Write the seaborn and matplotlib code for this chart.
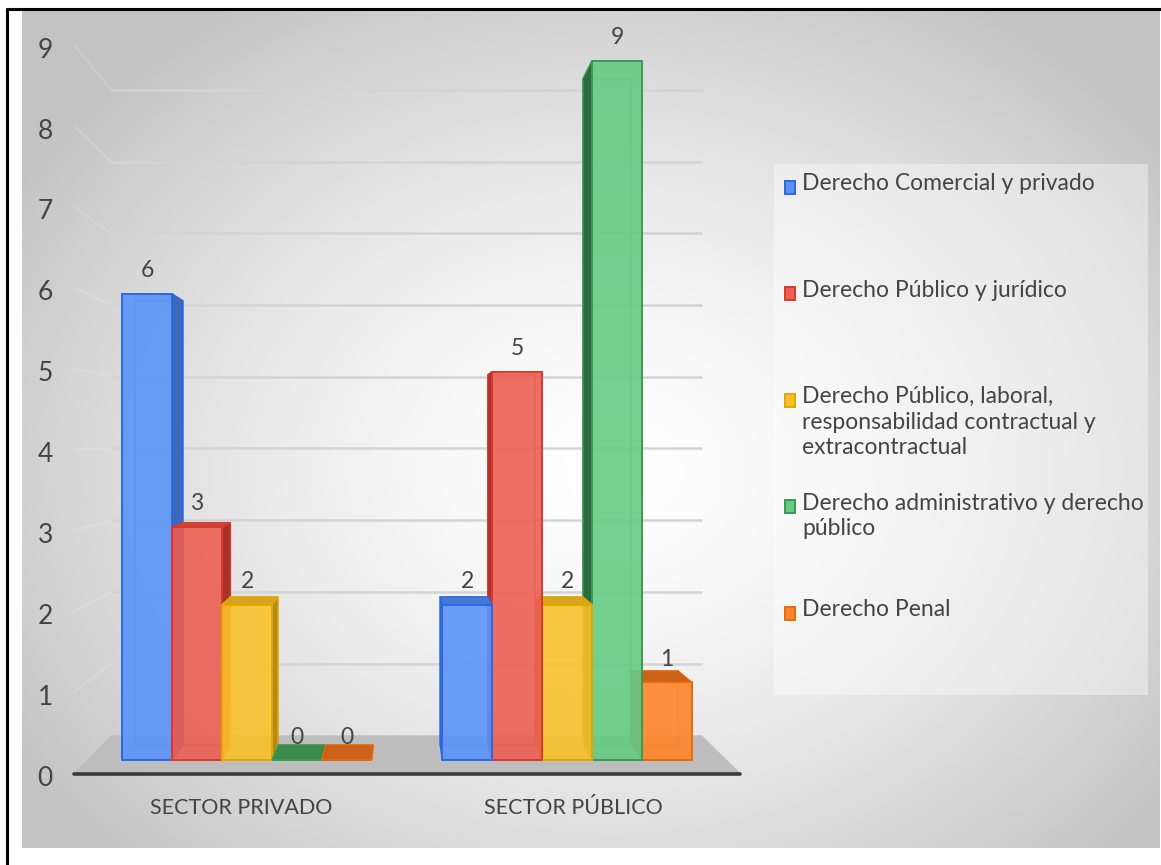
import numpy as np
import pandas as pd
import matplotlib
matplotlib.use("Agg")
import matplotlib.pyplot as plt
import seaborn as sns
from matplotlib.transforms import Affine2D, IdentityTransform, ScaledTranslation
from matplotlib.patches import Polygon, Rectangle
from matplotlib.lines import Line2D
from matplotlib.colors import to_rgba

# ---- data -------------------------------------------------------------
sectors = ["SECTOR PRIVADO", "SECTOR PÚBLICO"]
areas = [
    "Derecho Comercial y privado",
    "Derecho Público y jurídico",
    "Derecho Público, laboral,\nresponsabilidad contractual y\nextracontractual",
    "Derecho administrativo y derecho\npúblico",
    "Derecho Penal",
]
privado = [6, 3, 2, 0, 0]
publico = [2, 5, 2, 9, 1]
y_ticks = list(range(10))

# ---- colours ----------------------------------------------------------
front_colors = ["#5B94F6", "#EC5F53", "#F9C22C", "#66CB84", "#FF852A"]
edge_colors = ["#2A68E6", "#D8392C", "#E5A600", "#3A9A55", "#E8680A"]
side_colors = ["#3F68BC", "#A9332B", "#B38B1D", "#2E6A40", "#C2580F"]
top_colors = ["#4878D4", "#C9473B", "#D6A41F", "#3B8B4D", "#C9621B"]
text_color = "#444444"

sns.set_theme(style="white")
plt.rcParams["font.family"] = ["Lato", "DejaVu Sans"]

W, H = 1161, 865
fig = plt.figure(figsize=(W / 100, H / 100), dpi=100)
fig.patch.set_facecolor("white")

# ---- radial grey background --------------------------------------------
bx0, bx1, by0, by1 = 22, 1160, 11, 848
bg = fig.add_axes([bx0 / W, 1 - by1 / H, (bx1 - bx0) / W, (by1 - by0) / H], zorder=-10)
yy, xx = np.mgrid[by0:by1:420j, bx0:bx1:560j]
dist = np.hypot((xx - 610) / 700, (yy - 470) / 560)
shade = 1 - 0.235 * np.clip(dist, 0, 1) ** 1.5
bg.imshow(np.dstack([shade, shade, shade]), aspect="auto", interpolation="bilinear")
bg.axis("off")

# outer frame
fig.add_artist(Line2D([7 / W, 7 / W], [0, 1 - 9 / H], color="black", lw=2.2,
                      transform=fig.transFigure))
fig.add_artist(Line2D([7 / W, 1], [1 - 9 / H, 1 - 9 / H], color="black", lw=2.2,
                      transform=fig.transFigure))

# ---- main plot axes (front face plane of the columns) -------------------
px_unit = 77.7
y_lo, y_hi = -1.2, 9.7
top_px = 760 - y_hi * px_unit
bot_px = 760 - y_lo * px_unit
ax = fig.add_axes([87 / W, (H - bot_px) / H, 640 / W, (bot_px - top_px) / H])

df = pd.DataFrame({
    "sector": np.repeat(sectors, len(areas)),
    "area": areas * len(sectors),
    "count": privado + publico,
})
sns.barplot(data=df, x="sector", y="count", hue="area", order=sectors,
            hue_order=areas, palette=front_colors, saturation=1, width=0.78,
            errorbar=None, legend=False, ax=ax)
ax.set_xlim(-0.5, 1.5)
ax.set_ylim(y_lo, y_hi)
ax.axis("off")

# perspective: planes scaled about a vanishing point (display pixels)
VPX, VPY = 400, H - 440


def plane(s):
    return ax.transData + Affine2D().translate(-VPX, -VPY).scale(s).translate(VPX, VPY)


T_front = plane(1.041)
T_back = plane(0.953)
T_wall = plane(0.923)
ident = IdentityTransform()

# back wall gridlines and faint side-wall lines
for v in y_ticks[1:]:
    ax.plot([-0.5, 1.5], [v, v], transform=T_wall, color="#d4d4d4", lw=1.8,
            zorder=1, clip_on=False, solid_capstyle="butt")
    p1 = T_front.transform((-0.5, v))
    p2 = T_wall.transform((-0.5, v))
    ax.add_line(Line2D([p1[0], p2[0]], [p1[1], p2[1]], transform=ident,
                       color=(1, 1, 1, 0.16), lw=1.3, zorder=1, clip_on=False))

# floor
floor = np.array([T_front.transform((-0.5, 0)), T_front.transform((1.5, 0)),
                  T_wall.transform((1.5, 0)), T_wall.transform((-0.5, 0))])
ax.add_patch(Polygon(floor, closed=True, transform=ident, facecolor="#bdbdbd",
                     edgecolor="none", zorder=2, clip_on=False))
ax.add_line(Line2D(floor[:2, 0], floor[:2, 1] - 0.5, transform=ident,
                   color="#3a3a3a", lw=2.6, zorder=3, clip_on=False))

# y tick labels on the front plane
for v in y_ticks:
    ax.text(-0.5, v, str(v),
            transform=T_front + ScaledTranslation(-0.29, -0.05, fig.dpi_scale_trans),
            ha="center", va="center", fontsize=19, color=text_color)

# category labels on the front plane
for i, name in enumerate(sectors):
    ax.text(i, 0, name,
            transform=T_front + ScaledTranslation(0, -0.35, fig.dpi_scale_trans),
            ha="center", va="center", fontsize=15.5, color=text_color)

# ---- extrude the seaborn bars into boxes ---------------------------------
for hi, cont in enumerate(ax.containers):
    for bar in cont:
        x0, w, h = bar.get_x(), bar.get_width(), bar.get_height()
        corners = [(x0, 0), (x0 + w, 0), (x0 + w, h), (x0, h)]
        fr = ax.transData.transform(corners)
        bk = T_back.transform(corners)
        cx = fr[:, 0].mean()
        z = 5 - abs(cx - VPX) / 1000.0
        # back edges seen through the translucent front
        ax.add_patch(Polygon(bk, closed=True, transform=ident, fill=False,
                             edgecolor=to_rgba(edge_colors[hi], 0.55), lw=1.2,
                             zorder=z - 0.003, clip_on=False))
        # visible side face
        if cx < VPX:
            side = [fr[1], fr[2], bk[2], bk[1]]
        else:
            side = [fr[0], fr[3], bk[3], bk[0]]
        ax.add_patch(Polygon(side, closed=True, transform=ident,
                             facecolor=side_colors[hi], edgecolor=edge_colors[hi],
                             lw=1.0, zorder=z - 0.002, clip_on=False))
        # top face, only when below eye level
        if fr[2][1] < VPY:
            top = [fr[3], fr[2], bk[2], bk[3]]
            ax.add_patch(Polygon(top, closed=True, transform=ident,
                                 facecolor=top_colors[hi], edgecolor=edge_colors[hi],
                                 lw=1.0, zorder=z - 0.001, clip_on=False))
        bar.set_facecolor(to_rgba(front_colors[hi], 0.9))
        bar.set_edgecolor(edge_colors[hi])
        bar.set_linewidth(1.4)
        bar.set_zorder(z)
        bar.set_clip_on(False)
    ax.bar_label(cont, fmt="%d", padding=9, fontsize=16.5, color=text_color,
                 zorder=8)

# ---- legend panel -------------------------------------------------------
fig.add_artist(Rectangle((774 / W, 1 - 695 / H), (1148 - 774) / W, (695 - 164) / H,
                         transform=fig.transFigure, facecolor=(1, 1, 1, 0.38),
                         edgecolor="none", zorder=0))
for i, label in enumerate(areas):
    yc = 187.5 + 106.4 * i
    fig.add_artist(Rectangle((785 / W, 1 - (yc + 6.5) / H), 10 / W, 13 / H,
                             transform=fig.transFigure, facecolor=front_colors[i],
                             edgecolor=edge_colors[i], lw=1.4, zorder=3))
    fig.text(802 / W, 1 - (yc - 14) / H, label, ha="left", va="top",
             fontsize=16.5, color=text_color, linespacing=1.25, zorder=3)

fig.savefig("out.png", dpi=100)
